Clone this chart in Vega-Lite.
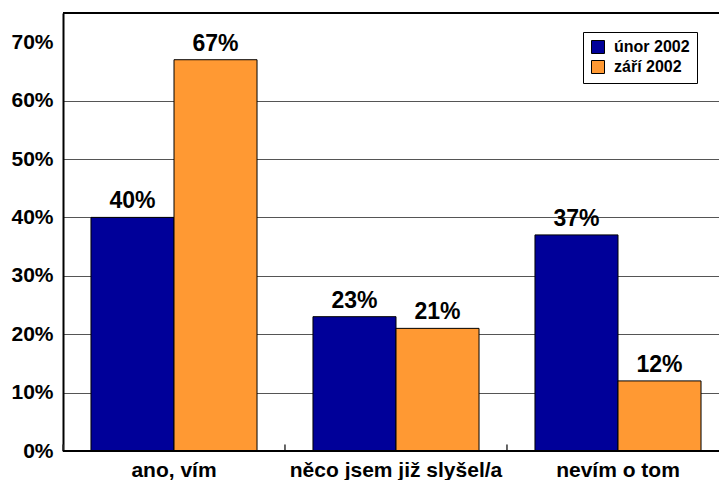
{
  "$schema": "https://vega.github.io/schema/vega-lite/v6.json",
  "width": 656,
  "height": 438,
  "autosize": {"type": "none"},
  "padding": {"left": 63, "top": 13, "right": 0, "bottom": 29},
  "config": {
    "view": {"stroke": null},
    "font": "Liberation Sans"
  },
  "data": {
    "values": [
      {"odpoved": "ano, vím", "obdobi": "únor 2002", "value": 40},
      {"odpoved": "ano, vím", "obdobi": "září 2002", "value": 67},
      {"odpoved": "něco jsem již slyšel/a", "obdobi": "únor 2002", "value": 23},
      {"odpoved": "něco jsem již slyšel/a", "obdobi": "září 2002", "value": 21},
      {"odpoved": "nevím o tom", "obdobi": "únor 2002", "value": 37},
      {"odpoved": "nevím o tom", "obdobi": "září 2002", "value": 12}
    ]
  },
  "transform": [{"calculate": "datum.value + '%'", "as": "label"}],
  "layer": [
    {
      "mark": {"type": "bar", "stroke": "#000", "strokeWidth": 1},
      "encoding": {
        "x": {
          "field": "odpoved",
          "type": "nominal",
          "sort": ["ano, vím", "něco jsem již slyšel/a", "nevím o tom"],
          "scale": {"range": [0, 666], "paddingInner": 0.252, "paddingOuter": 0.126},
          "axis": {
            "title": null,
            "domain": false,
            "ticks": false,
            "labelAngle": 0,
            "labelLimit": 0,
            "labelFont": "Liberation Sans",
            "labelFontSize": 21,
            "labelFontWeight": "bold",
            "labelColor": "#000",
            "labelPadding": 8,
            "grid": false
          }
        },
        "xOffset": {
          "field": "obdobi",
          "type": "nominal",
          "sort": ["únor 2002", "září 2002"],
          "scale": {"paddingInner": 0, "paddingOuter": 0}
        },
        "y": {
          "field": "value",
          "type": "quantitative",
          "scale": {"domain": [0, 75], "nice": false},
          "axis": {
            "title": null,
            "values": [0, 10, 20, 30, 40, 50, 60, 70],
            "labelExpr": "datum.value + '%'",
            "labelFont": "Liberation Sans",
            "labelFontSize": 21,
            "labelFontWeight": "bold",
            "labelColor": "#000",
            "labelPadding": 10,
            "ticks": false,
            "domainColor": "#000",
            "domainWidth": 2,
            "grid": true,
            "gridColor": "#555",
            "gridWidth": 1,
            "gridOpacity": {"condition": {"test": "datum.value == 0 || datum.value == 70", "value": 0}, "value": 1}
          }
        },
        "color": {
          "field": "obdobi",
          "type": "nominal",
          "sort": ["únor 2002", "září 2002"],
          "scale": {"domain": ["únor 2002", "září 2002"], "range": ["#000099", "#FF9933"]},
          "legend": {
            "title": null,
            "orient": "none",
            "legendX": 520,
            "legendY": 19,
            "strokeColor": "#000",
            "fillColor": "#fff",
            "padding": 7,
            "symbolType": "square",
            "symbolSize": 169,
            "symbolStrokeColor": "#000",
            "symbolStrokeWidth": 1,
            "symbolOpacity": 1,
            "labelFont": "Liberation Sans",
            "labelFontSize": 16,
            "labelFontWeight": "bold",
            "labelColor": "#000",
            "labelOffset": 8,
            "rowPadding": 2
          }
        }
      }
    },
    {
      "mark": {"type": "text", "baseline": "alphabetic", "dy": -9, "fontSize": 23, "fontWeight": "bold", "font": "Liberation Sans", "color": "#000"},
      "encoding": {
        "x": {
          "field": "odpoved",
          "type": "nominal",
          "sort": ["ano, vím", "něco jsem již slyšel/a", "nevím o tom"]
        },
        "xOffset": {
          "field": "obdobi",
          "type": "nominal",
          "sort": ["únor 2002", "září 2002"]
        },
        "y": {"field": "value", "type": "quantitative"},
        "text": {"field": "label"}
      }
    },
    {
      "mark": {"type": "rule", "color": "#333", "strokeWidth": 1, "xOffset": -28},
      "encoding": {
        "x": {
          "field": "odpoved",
          "type": "nominal",
          "bandPosition": 0,
          "sort": ["ano, vím", "něco jsem již slyšel/a", "nevím o tom"]
        },
        "y": {"datum": 0},
        "y2": {"datum": 1.1}
      }
    },
    {
      "mark": {"type": "rule", "color": "#000", "strokeWidth": 2},
      "encoding": {"y": {"datum": 75}}
    },
    {
      "mark": {"type": "rule", "color": "#000", "strokeWidth": 2},
      "encoding": {"y": {"datum": 0}}
    }
  ]
}
